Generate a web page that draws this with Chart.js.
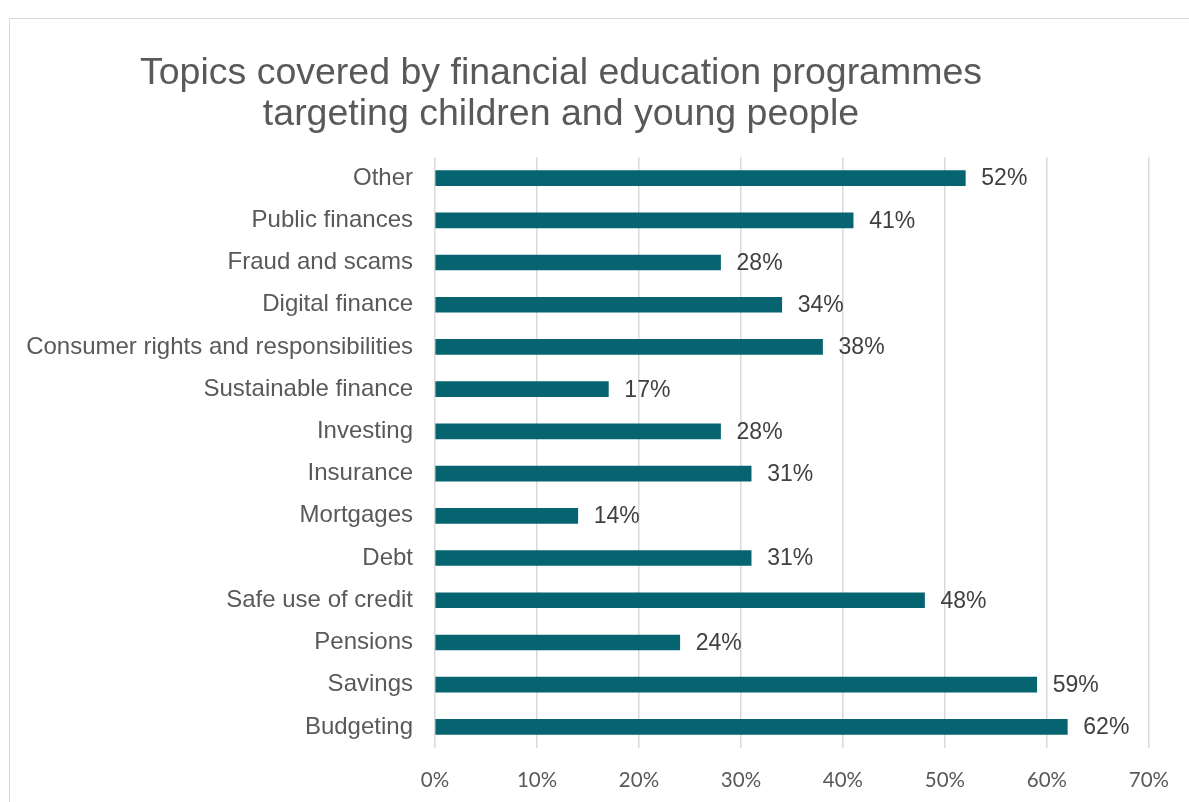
<!DOCTYPE html>
<html>
<head>
<meta charset="utf-8">
<title>Topics covered by financial education programmes</title>
<script src="https://cdn.jsdelivr.net/npm/chart.js@4.4.1/dist/chart.umd.min.js"></script>
<style>
  html, body { margin: 0; padding: 0; background: #fff; overflow: hidden; }
  body { width: 1189px; height: 802px; position: relative; }
  .frame {
    position: absolute; left: 9px; top: 18px; width: 1220px; height: 820px;
    border: 1px solid #d9d9d9; box-sizing: border-box;
  }
  .wrap { position: absolute; left: -28px; top: 0; width: 1217px; height: 802px; }
</style>
</head>
<body>
<div class="frame"></div>
<div class="wrap"><canvas id="grafico"></canvas></div>
<script>
// Temas, de arriba abajo, y porcentaje de programas que los cubren
const temas = [
  "Other",
  "Public finances",
  "Fraud and scams",
  "Digital finance",
  "Consumer rights and responsibilities",
  "Sustainable finance",
  "Investing",
  "Insurance",
  "Mortgages",
  "Debt",
  "Safe use of credit",
  "Pensions",
  "Savings",
  "Budgeting",
];
const porcentajes = [52, 41, 28, 34, 38, 17, 28, 31, 14, 31, 48, 24, 59, 62];
const marcasEje = [0, 10, 20, 30, 40, 50, 60, 70];

const tituloLineas = [
  "Topics covered by financial education programmes",
  "targeting children and young people",
];

// Escribe el valor al final de cada barra
const etiquetasValor = {
  id: "etiquetasValor",
  afterDatasetsDraw(chart) {
    const { ctx } = chart;
    const meta = chart.getDatasetMeta(0);
    ctx.save();
    ctx.font = "23px 'Liberation Sans', Arial, sans-serif";
    ctx.fillStyle = "#404040";
    ctx.textAlign = "left";
    ctx.textBaseline = "middle";
    meta.data.forEach((barra, i) => {
      ctx.fillText(porcentajes[i] + "%", barra.x + 16, barra.y + 1);
    });
    ctx.restore();
  },
};

const ctx = document.getElementById("grafico").getContext("2d");
new Chart(ctx, {
  type: "bar",
  data: {
    labels: temas,
    datasets: [
      {
        data: porcentajes,
        backgroundColor: "#05646f",
        borderWidth: 0,
        barThickness: 15,
      },
    ],
  },
  plugins: [etiquetasValor],
  options: {
    indexAxis: "y",
    responsive: true,
    maintainAspectRatio: false,
    animation: false,
    layout: { padding: { left: 0, right: 39, top: 0, bottom: 0 } },
    plugins: {
      legend: { display: false },
      tooltip: { enabled: false },
      title: {
        display: true,
        text: tituloLineas,
        color: "#595959",
        font: { family: "'Liberation Sans', Arial, sans-serif", size: 37.5, weight: "normal", lineHeight: 1.093 },
        padding: { top: 53, bottom: 22 },
      },
    },
    scales: {
      x: {
        min: 0,
        max: 70,
        afterBuildTicks(scale) {
          scale.ticks = marcasEje.map((v) => ({ value: v }));
        },
        afterFit(scale) {
          scale.height = 54;
        },
        ticks: {
          callback: (v) => v + "%",
          color: "#595959",
          font: { family: "Lato, 'Open Sans', sans-serif", size: 20.5 },
          padding: 20,
          maxRotation: 0,
        },
        grid: { color: "#d9d9d9", lineWidth: 1.5, drawTicks: false },
        border: { display: false },
      },
      y: {
        afterFit(scale) {
          scale.width = 463;
        },
        ticks: {
          color: "#595959",
          font: { family: "'Liberation Sans', Arial, sans-serif", size: 24 },
          padding: 22,
          autoSkip: false,
        },
        grid: { display: false, drawTicks: false },
        border: { display: false },
      },
    },
  },
});
</script>
</body>
</html>
